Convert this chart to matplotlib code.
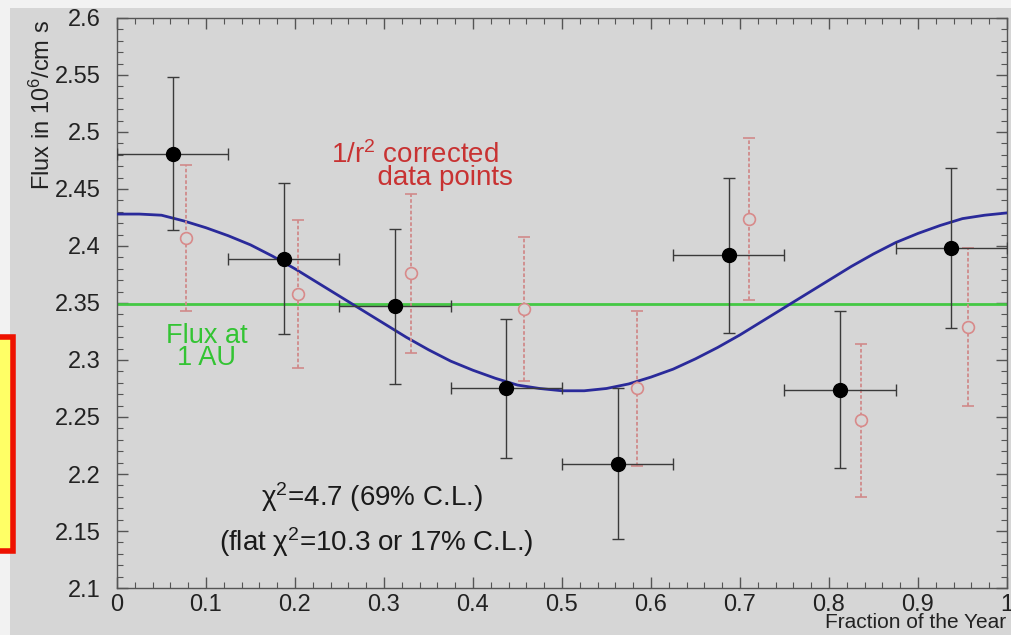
import numpy as np
import matplotlib.pyplot as plt
from matplotlib.patches import Rectangle
from matplotlib.ticker import MultipleLocator, FuncFormatter

plt.rcParams['font.family'] = ['Liberation Sans', 'DejaVu Sans']
plt.rcParams['mathtext.fontset'] = 'custom'
plt.rcParams['mathtext.rm'] = 'Liberation Sans'
plt.rcParams['mathtext.default'] = 'regular'

# measured flux per eighth of the year
t_meas = [0.0625, 0.1875, 0.3125, 0.4375, 0.5625, 0.6875, 0.8125, 0.9375]
flux_meas = [2.481, 2.389, 2.347, 2.275, 2.209, 2.392, 2.274, 2.398]
flux_err = [0.067, 0.066, 0.068, 0.061, 0.066, 0.068, 0.069, 0.070]
t_halfwidth = 0.0625

# same points after 1/r^2 correction
t_corr = [0.0775, 0.203, 0.330, 0.457, 0.584, 0.710, 0.836, 0.956]
flux_corr = [2.407, 2.358, 2.376, 2.345, 2.275, 2.424, 2.247, 2.329]
corr_err = [0.064, 0.065, 0.070, 0.063, 0.068, 0.071, 0.067, 0.069]

# fitted seasonal curve
t_fit = [0.0, 0.025, 0.05, 0.075, 0.10, 0.125, 0.15, 0.175, 0.20, 0.225,
         0.25, 0.275, 0.30, 0.325, 0.35, 0.375, 0.40, 0.425, 0.45, 0.475,
         0.50, 0.525, 0.55, 0.575, 0.60, 0.625, 0.65, 0.675, 0.70, 0.725,
         0.75, 0.775, 0.80, 0.825, 0.85, 0.875, 0.90, 0.925, 0.95, 0.975, 1.0]
flux_fit = [2.428, 2.428, 2.427, 2.422, 2.416, 2.409, 2.401, 2.391, 2.380,
            2.368, 2.356, 2.344, 2.332, 2.320, 2.309, 2.299, 2.291, 2.284,
            2.278, 2.275, 2.273, 2.273, 2.275, 2.279, 2.285, 2.292, 2.301,
            2.311, 2.322, 2.334, 2.346, 2.358, 2.370, 2.382, 2.393, 2.403,
            2.411, 2.418, 2.424, 2.427, 2.429]

flux_1au = 2.349

bg = '#d6d6d6'
fig = plt.figure(figsize=(10.12, 6.35), dpi=100, facecolor=bg)
ax = fig.add_axes([0.1156, 0.074, 0.8794, 0.8977])
ax.set_facecolor(bg)

# light strips along the left and top edge, plus the yellow marker box
fig.patches.append(Rectangle((0, 0), 10 / 1012, 1, transform=fig.transFigure,
                             facecolor='#f2f2f2', edgecolor='none', zorder=0))
fig.patches.append(Rectangle((0, 1 - 8 / 635), 1, 8 / 635, transform=fig.transFigure,
                             facecolor='#f2f2f2', edgecolor='none', zorder=0))
fig.patches.append(Rectangle((-6 / 1012, (635 - 551) / 635), 19 / 1012, 214 / 635,
                             transform=fig.transFigure, facecolor='#ffff66',
                             edgecolor='#ee1100', linewidth=4, zorder=1))

ax.axhline(flux_1au, color='#44c844', lw=2, zorder=2)
ax.plot(t_fit, flux_fit, color='#2a2a9a', lw=2, zorder=3)

eb = ax.errorbar(t_corr, flux_corr, yerr=corr_err, fmt='o', ms=8.5, mfc=bg,
                 mec='#d88a8a', mew=1.2, ecolor='#d08a8a', elinewidth=1.3,
                 capsize=4, capthick=1, zorder=4)
eb[2][0].set_linestyle((0, (2, 1.2)))

ax.errorbar(t_meas, flux_meas, xerr=t_halfwidth, yerr=flux_err, fmt='o', ms=10,
            color='black', ecolor='#3a3a3a', elinewidth=1.0, capsize=4,
            capthick=1, zorder=5)

ax.text(0.241, 2.470, '1/r$^2$ corrected\n      data points', color='#c83232',
        fontsize=20, ha='left', va='center', linespacing=0.8)
ax.text(0.101, 2.311, 'Flux at\n1 AU', color='#33c433', fontsize=19.5,
        ha='center', va='center', linespacing=0.8)
ax.text(0.287, 2.180, 'χ$^2$=4.7 (69% C.L.)', fontsize=20, ha='center',
        va='center', color='#1a1a1a')
ax.text(0.291, 2.140, '(flat χ$^2$=10.3 or 17% C.L.)', fontsize=20,
        ha='center', va='center', color='#1a1a1a')

ax.set_xlim(0, 1)
ax.set_ylim(2.1, 2.6)
ax.xaxis.set_major_locator(MultipleLocator(0.1))
ax.xaxis.set_minor_locator(MultipleLocator(0.02))
ax.yaxis.set_major_locator(MultipleLocator(0.05))
ax.yaxis.set_minor_locator(MultipleLocator(0.01))
fmt = FuncFormatter(lambda v, p: '%g' % round(v, 3))
ax.xaxis.set_major_formatter(fmt)
ax.yaxis.set_major_formatter(fmt)
ax.tick_params(which='both', direction='in', top=True, right=True,
               color='#555555', labelsize=17, labelcolor='#222222')
ax.tick_params(which='major', length=8, width=1)
ax.tick_params(which='minor', length=4, width=0.8)
ax.tick_params(axis='y', pad=12)
ax.tick_params(axis='x', pad=4)
for s in ax.spines.values():
    s.set_color('#555555')
    s.set_linewidth(1)

fig.text(0.042, 0.968, 'Flux in 10$^6$/cm s', rotation=90, ha='center', va='top',
         fontsize=17, color='#222222')
fig.text(0.994, 0.004, 'Fraction of the Year', ha='right', va='bottom',
         fontsize=15, color='#222222')

fig.savefig('out.png', dpi=100, facecolor=bg)
